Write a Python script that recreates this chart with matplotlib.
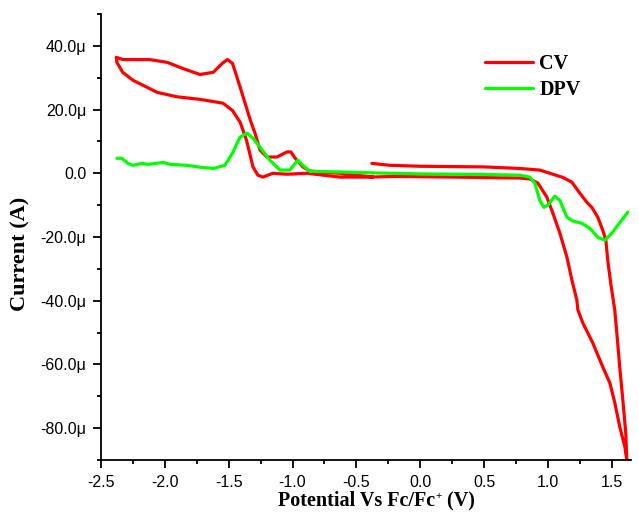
import matplotlib
matplotlib.use('Agg')
import matplotlib.pyplot as plt
import matplotlib.ticker as mtick

plt.rcParams['axes.unicode_minus'] = False

# CV loop (potential in V, current in uA)
cv_x = [-0.379, -0.238, 0.0, 0.5, 0.78, 0.936, 1.038, 1.116, 1.187, 1.25, 1.304, 1.343, 1.39, 1.429,
        1.453, 1.468, 1.491, 1.523, 1.539, 1.562, 1.586, 1.609, 1.617,
        1.602, 1.562, 1.523, 1.484, 1.429, 1.351, 1.273, 1.234, 1.226, 1.187, 1.148, 1.093, 1.038,
        0.991, 0.921, 0.858, 0.78, 0.25, -0.2, -0.394, -0.629, -0.888, -1.044, -1.154, -1.232, -1.271,
        -1.31, -1.36, -1.41, -1.47, -1.545, -1.725, -1.905, -2.06, -2.25, -2.33, -2.375, -2.38,
        -2.33, -2.12, -1.98, -1.86, -1.725, -1.62, -1.55, -1.51, -1.47, -1.41, -1.33, -1.294, -1.255,
        -1.201, -1.122, -1.044, -1.013, -0.981, -0.919, -0.864, -0.629, -0.371]
cv_y = [3.1, 2.5, 2.2, 2.0, 1.5, 1.0, -0.3, -1.3, -2.8, -6.3, -9.1, -10.7, -13.8, -17.9,
        -21.0, -27.3, -34.5, -43.0, -50.2, -60.9, -71.2, -81.6, -90.0,
        -85.9, -79.6, -72.0, -65.8, -60.8, -53.3, -47.0, -42.9, -39.8, -33.5, -26.3, -18.8, -12.5,
        -7.5, -3.1, -1.8, -1.5, -1.2, -1.0, -1.2, -1.2, 0.0, -0.3, 0.0, -1.2, -0.6,
        2.0, 10.3, 16.0, 19.7, 22.0, 23.2, 24.0, 25.4, 29.2, 31.7, 34.8, 36.4,
        35.7, 35.7, 34.8, 32.9, 31.0, 31.7, 34.5, 35.7, 34.5, 27.0, 16.6, 12.6, 7.3,
        5.1, 5.1, 6.7, 6.7, 4.8, 2.0, 0.7, 0.0, -1.2]

# DPV trace
dpv_x = [-2.375, -2.336, -2.29, -2.25, -2.18, -2.13, -2.01, -1.96, -1.83, -1.725, -1.62, -1.53, -1.47,
         -1.412, -1.357, -1.31, -1.255, -1.177, -1.099, -1.021, -0.958, -0.919, -0.864, -0.629, -0.238,
         0.0, 0.5, 0.78, 0.858, 0.897, 0.936, 0.968, 0.999, 1.054, 1.093, 1.148, 1.195, 1.265, 1.328,
         1.39, 1.445, 1.5, 1.625]
dpv_y = [4.7, 4.7, 3.1, 2.5, 3.1, 2.8, 3.4, 2.8, 2.5, 1.9, 1.5, 2.5, 6.3,
         11.3, 12.6, 11.0, 8.2, 4.1, 1.0, 1.0, 4.1, 2.5, 0.6, 0.4, 0.0,
         -0.2, -0.4, -0.6, -1.2, -3.1, -8.5, -10.7, -10.0, -7.2, -8.5, -13.8, -15.0, -15.7, -17.3,
         -20.1, -21.0, -18.8, -12.2]

fig = plt.figure(figsize=(6.39, 5.12), dpi=100)
ax = fig.add_axes([0.158, 0.1016, 0.8295, 0.8711])

ax.plot(cv_x, [v * 1e-6 for v in cv_y], color='#ff0000', lw=2.3, label='CV',
        solid_joinstyle='round', solid_capstyle='round')
ax.plot(dpv_x, [v * 1e-6 for v in dpv_y], color='#00ff00', lw=2.3, label='DPV',
        solid_joinstyle='round', solid_capstyle='round')

ax.set_xlim(-2.5, 1.65)
ax.set_ylim(-90e-6, 50e-6)

ax.spines['top'].set_visible(False)
ax.spines['right'].set_visible(False)
for s in ('left', 'bottom'):
    ax.spines[s].set_linewidth(1.3)

ax.xaxis.set_major_locator(mtick.MultipleLocator(0.5))
ax.xaxis.set_minor_locator(mtick.MultipleLocator(0.25))
ax.yaxis.set_major_locator(mtick.MultipleLocator(20e-6))
ax.yaxis.set_minor_locator(mtick.MultipleLocator(10e-6))


def fmt_u(v, pos):
    v = v * 1e6
    if abs(v) < 1e-9:
        return '0.0'
    return '%.1f\u03bc' % v


ax.yaxis.set_major_formatter(mtick.FuncFormatter(fmt_u))
ax.tick_params(which='major', direction='out', length=6, width=1.3, labelsize=11.5, pad=4.5)
ax.tick_params(which='minor', direction='out', length=3, width=1.3)
for lab in ax.get_xticklabels() + ax.get_yticklabels():
    lab.set_fontfamily('Liberation Sans')

# x label with a small raised "+"
lbl = dict(fontsize=14.5, fontweight='bold', family='Liberation Serif')
t1 = fig.text(278 / 639, 6 / 512, 'Potential Vs Fc/Fc', ha='left', va='baseline', **lbl)
t2 = ax.annotate('+', xy=(1, 1), xycoords=t1, xytext=(0.5, -1), textcoords='offset points',
                 ha='left', va='top', fontsize=8, fontweight='bold', family='Liberation Serif')
ax.annotate(' (V)', xy=(1, 0), xycoords=(t2, t1), ha='left', va='bottom', **lbl)

ax.set_ylabel('Current (A)', fontsize=16, fontweight='bold', family='Liberation Serif')
ax.yaxis.set_label_coords(-0.133, 0.462)

ax.legend(loc='upper left', bbox_to_anchor=(0.69, 0.95), frameon=False,
          prop={'family': 'Liberation Serif', 'weight': 'bold', 'size': 14.5},
          handlelength=2.4, handletextpad=0.3, labelspacing=0.3)

fig.savefig('out.png', dpi=100)
